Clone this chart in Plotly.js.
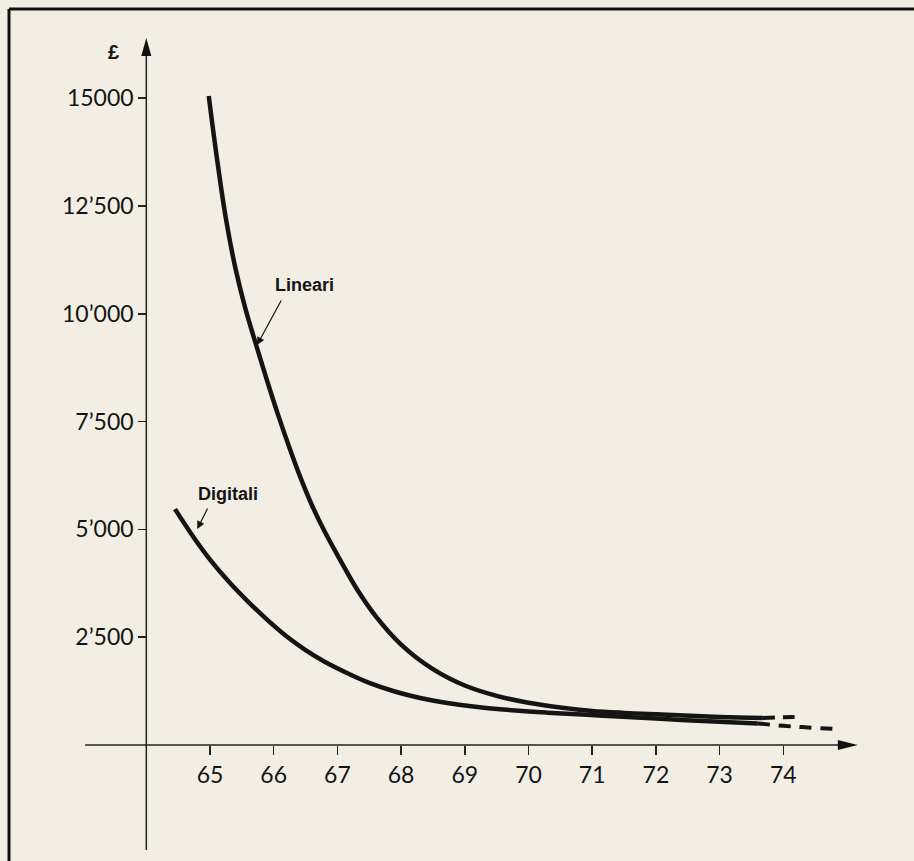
<!DOCTYPE html>
<html>
<head>
<meta charset="utf-8">
<script src="https://cdn.plot.ly/plotly-3.0.1.min.js"></script>
<style>
  html, body { margin: 0; padding: 0; background: #f3eee4; }
  #chart { width: 914px; height: 861px; }
</style>
</head>
<body>
<div id="chart"></div>
<script>
// ---- data ----
const yearTicks = [65, 66, 67, 68, 69, 70, 71, 72, 73, 74];
const yearLabels = ["65", "66", "67", "68", "69", "70", "71", "72", "73", "74"];
const poundTicks = [2500, 5000, 7500, 10000, 12500, 15000];
const poundLabels = ["2’500", "5’000", "7’500", "10’000", "12’500", "15000"];

const lineariYears  = [64.98, 65.1, 65.25, 65.4, 65.55, 65.74, 65.9, 66.07, 66.25, 66.41, 66.6, 66.8, 67.04, 67.3, 67.6, 68.0, 68.5, 69.0, 69.5, 70.0, 70.5, 71.0, 71.5, 72.0, 73.0, 73.68];
const lineariValues = [15050, 13700, 12200, 11050, 10150, 9200, 8430, 7650, 6880, 6240, 5560, 4950, 4300, 3630, 2990, 2330, 1760, 1380, 1140, 980, 870, 790, 745, 712, 650, 625];
const lineariDashYears  = [73.68, 74.0, 74.25];
const lineariDashValues = [625, 645, 650];

const digitaliYears  = [64.45, 64.75, 65.0, 65.3, 65.6, 65.9, 66.2, 66.5, 66.8, 67.15, 67.5, 67.9, 68.3, 68.7, 69.2, 69.8, 70.3, 71.1, 72.0, 73.0, 73.6];
const digitaliValues = [5470, 4800, 4300, 3780, 3320, 2900, 2520, 2200, 1930, 1670, 1440, 1240, 1090, 980, 880, 800, 750, 685, 612, 540, 500];
const digitaliDashYears  = [73.6, 74.0, 74.3, 74.85];
const digitaliDashValues = [500, 445, 415, 370];

const ink = "#141414";

const traces = [
  { x: lineariYears, y: lineariValues, mode: "lines", line: { color: ink, width: 4.5, shape: "spline", smoothing: 1 }, hoverinfo: "skip" },
  { x: lineariDashYears, y: lineariDashValues, mode: "lines", line: { color: ink, width: 4, dash: "12px,8px", shape: "spline" }, hoverinfo: "skip" },
  { x: digitaliYears, y: digitaliValues, mode: "lines", line: { color: ink, width: 4.5, shape: "spline", smoothing: 1 }, hoverinfo: "skip" },
  { x: digitaliDashYears, y: digitaliDashValues, mode: "lines", line: { color: ink, width: 4, dash: "12px,9px", shape: "spline" }, hoverinfo: "skip" }
];

const tickFont = { family: "Lato, 'Open Sans', sans-serif", size: 23, color: ink };

const layout = {
  width: 914, height: 861,
  margin: { l: 0, r: 0, t: 0, b: 0, autoexpand: false },
  paper_bgcolor: "#f3eee4", plot_bgcolor: "#f3eee4",
  showlegend: false,
  xaxis: {
    range: [61.703, 76.052], anchor: "free", position: 0.1347,
    showgrid: false, zeroline: false, showline: false,
    tickmode: "array", tickvals: yearTicks, ticktext: yearLabels,
    ticks: "outside", ticklen: 9, tickwidth: 1.5, tickcolor: "#222",
    tickfont: tickFont, fixedrange: true
  },
  yaxis: {
    range: [-2690, 17277], anchor: "free", position: 0.16,
    showgrid: false, zeroline: false, showline: false,
    tickmode: "array", tickvals: poundTicks, ticktext: poundLabels,
    ticks: "outside", ticklen: 8, tickwidth: 1.5, tickcolor: "#222",
    tickfont: tickFont, fixedrange: true
  },
  shapes: [
    // frame
    { type: "line", xref: "paper", yref: "paper", x0: 9/914, x1: 9/914, y0: 0, y1: 1 - 9/861, line: { color: "#111", width: 3 } },
    { type: "line", xref: "paper", yref: "paper", x0: 9/914, x1: 1, y0: 1 - 9/861, y1: 1 - 9/861, line: { color: "#111", width: 3 } },
    // x axis
    { type: "line", xref: "x", yref: "y", x0: 63.04, x1: 75.0, y0: 0, y1: 0, line: { color: "#222", width: 1.5 } },
    { type: "path", xref: "x", yref: "y", xsizemode: "pixel", ysizemode: "pixel", xanchor: 75.17, yanchor: 0,
      path: "M0,0L-20,5L-20,-5Z", fillcolor: "#111", line: { width: 0 } },
    // y axis
    { type: "line", xref: "x", yref: "y", x0: 64, x1: 64, y0: -2435, y1: 16100, line: { color: "#222", width: 1.5 } },
    { type: "path", xref: "x", yref: "y", xsizemode: "pixel", ysizemode: "pixel", xanchor: 64, yanchor: 16396,
      path: "M0,0L-5,-18L5,-18Z", fillcolor: "#111", line: { width: 0 } }
  ],
  annotations: [
    { x: 63.48, y: 16071, xref: "x", yref: "y", text: "<b>£</b>", showarrow: false,
      font: { family: "Liberation Sans, Arial, sans-serif", size: 20, color: ink } },
    { x: 66.49, y: 10668, xref: "x", yref: "y", text: "<b>Lineari</b>", showarrow: false,
      font: { family: "Liberation Sans, Arial, sans-serif", size: 18, color: ink } },
    { x: 65.28, y: 5821, xref: "x", yref: "y", text: "<b>Digitali</b>", showarrow: false,
      font: { family: "Liberation Sans, Arial, sans-serif", size: 18, color: ink } },
    { x: 65.738, y: 9276, xref: "x", yref: "y", text: "", showarrow: true, ax: 25, ay: -46,
      arrowhead: 2, arrowsize: 1.3, arrowwidth: 1.2, arrowcolor: ink },
    { x: 64.80, y: 5009, xref: "x", yref: "y", text: "", showarrow: true, ax: 11, ay: -22,
      arrowhead: 2, arrowsize: 1.3, arrowwidth: 1.2, arrowcolor: ink }
  ]
};

Plotly.newPlot("chart", traces, layout, { staticPlot: true, displayModeBar: false });
</script>
</body>
</html>
